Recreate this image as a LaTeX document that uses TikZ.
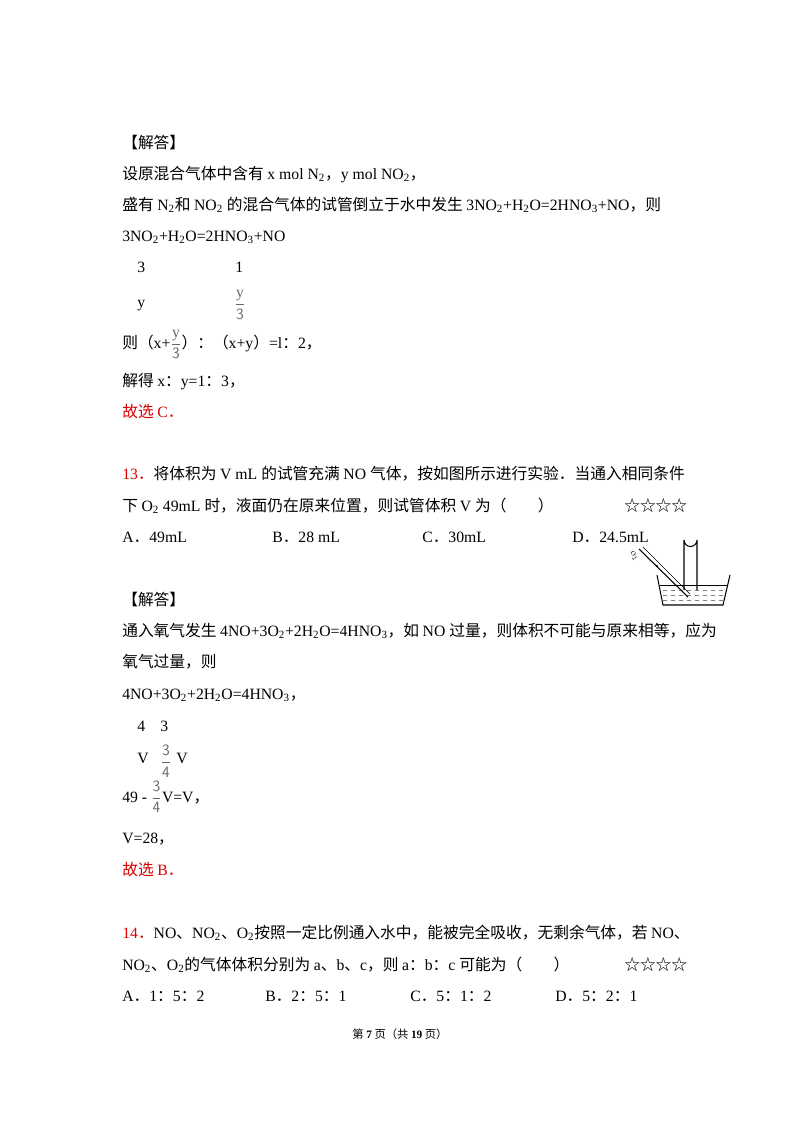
\documentclass[tikz,border=0pt]{standalone}
\usepackage{fontspec}
\setmainfont{Liberation Serif}
\newfontfamily\cjkfont{Noto Sans CJK SC}
\newcommand\latinfont{\rmfamily}
\XeTeXinterchartokenstate=1
\newXeTeXintercharclass\cjkclass
\count255="3000
\loop \XeTeXcharclass\count255=\cjkclass \advance\count255 1 \ifnum\count255<"A000 \repeat
\count255="FF00
\loop \XeTeXcharclass\count255=\cjkclass \advance\count255 1 \ifnum\count255<"FFF0 \repeat
\XeTeXcharclass"2606=\cjkclass
\XeTeXinterchartoks 0 \cjkclass={\cjkfont}
\XeTeXinterchartoks 4095 \cjkclass={\cjkfont}
\XeTeXinterchartoks \cjkclass 0={\latinfont}
\XeTeXinterchartoks 4095 0={\latinfont}
\newcommand\sbs[1]{\textsubscript{#1}}
\newcommand\gfr[1]{\textcolor{gray!80!black}{$\displaystyle\frac{\mathrm{#1}}{\mathsf{3}}$}}
\newcommand\gfq[1]{\textcolor{gray!80!black}{$\displaystyle\frac{\mathsf{3}}{\mathsf{4}}$}}
\begin{document}
\begin{tikzpicture}[x=0.75pt,y=-0.75pt,
  tx/.style={anchor=base west,inner sep=0pt,font=\fontsize{11.8}{13}\selectfont},
  red/.style={text=red!85!black}]
\useasboundingbox (0,0) rectangle (800,1132);
\node[tx] (l1) at (122,148) {【解答】};
\node[tx] (l2) at (122,179) {设原混合气体中含有 x mol N\sbs{2}，y mol NO\sbs{2}，};
\node[tx] (l3) at (122,210) {盛有 N\sbs{2}和 NO\sbs{2} 的混合气体的试管倒立于水中发生 3NO\sbs{2}+H\sbs{2}O=2HNO\sbs{3}+NO，则};
\node[tx] (l4) at (122,241) {3NO\sbs{2}+H\sbs{2}O=2HNO\sbs{3}+NO};
\node[tx] (l5a) at (137,272) {3};
\node[tx] (l5b) at (235,272) {1};
\node[tx] (l6a) at (137,307) {y};
\node[anchor=center,inner sep=0pt,font=\fontsize{11.8}{13}\selectfont] (l6b) at (240,305) {\gfr{y}};
\node[tx] (l7) at (122,348) {则（x+\gfr{y}）：（x+y）=l：2，};
\node[tx] (l8) at (122,386) {解得 x：y=1：3，};
\node[tx,red] (l9) at (122,417) {故选 C．};
\node[tx] (q13a) at (122,479) {\textcolor{red!85!black}{13．}将体积为 V mL 的试管充满 NO 气体，按如图所示进行实验．当通入相同条件};
\node[tx] (q13b) at (122,511) {下 O\sbs{2} 49mL 时，液面仍在原来位置，则试管体积 V 为（\quad\quad）};
\node[tx] (st1) at (624,511) {☆☆☆☆};
\node[tx] (oa) at (122,542) {A．49mL};
\node[tx] (ob) at (272,542) {B．28 mL};
\node[tx] (oc) at (422,542) {C．30mL};
\node[tx] (od) at (572,542) {D．24.5mL};
% apparatus
\draw[thick] (657,575) -- (663,605) -- (723,605) -- (730,575);
\draw (660,585) -- (727,585);
\foreach \yy in {590,595,600}
  \draw[dashed,gray] (663,\yy) -- (724,\yy);
\draw[thick] (684,590) -- (684,540) arc (180:0:6.5) -- (697,590);
\draw[thick] (639,549) -- (688,597);
\draw (643,547) -- (690,594);
\fill (657,566) circle (1.2);
\node[inner sep=0pt,font=\tiny,rotate=-45] (o2) at (634,556) {O\sbs{2}};
\node[tx] (s1) at (122,605) {【解答】};
\node[tx] (s2) at (122,636) {通入氧气发生 4NO+3O\sbs{2}+2H\sbs{2}O=4HNO\sbs{3}，如 NO 过量，则体积不可能与原来相等，应为};
\node[tx] (s3) at (122,667) {氧气过量，则};
\node[tx] (s4) at (122,699) {4NO+3O\sbs{2}+2H\sbs{2}O=4HNO\sbs{3}，};
\node[tx] (s5a) at (137,731) {4};
\node[tx] (s5b) at (160,731) {3};
\node[tx] (s6a) at (137,763) {V};
\node[anchor=center,inner sep=0pt,font=\fontsize{11.8}{13}\selectfont] (s6b) at (166,761) {\gfq{}};
\node[tx] (s6c) at (176,763) {V};
\node[tx] (s7) at (122,802) {49 - \gfq{}V=V，};
\node[tx] (s8) at (122,843) {V=28，};
\node[tx,red] (s9) at (122,875) {故选 B．};
\node[tx] (q14a) at (122,938) {\textcolor{red!85!black}{14．}NO、NO\sbs{2}、O\sbs{2}按照一定比例通入水中，能被完全吸收，无剩余气体，若 NO、};
\node[tx] (q14b) at (122,970) {NO\sbs{2}、O\sbs{2}的气体体积分别为 a、b、c，则 a：b：c 可能为（\quad\quad）};
\node[tx] (st2) at (624,970) {☆☆☆☆};
\node[tx] (pa) at (122,1001) {A．1：5：2};
\node[tx] (pb) at (265,1001) {B．2：5：1};
\node[tx] (pc) at (410,1001) {C．5：1：2};
\node[tx] (pd) at (555,1001) {D．5：2：1};
\node[anchor=base,inner sep=0pt,font=\fontsize{8.5}{10}\selectfont] (ft) at (400,1038) {第 \textbf{7} 页（共 \textbf{19} 页）};
\end{tikzpicture}
\end{document}
